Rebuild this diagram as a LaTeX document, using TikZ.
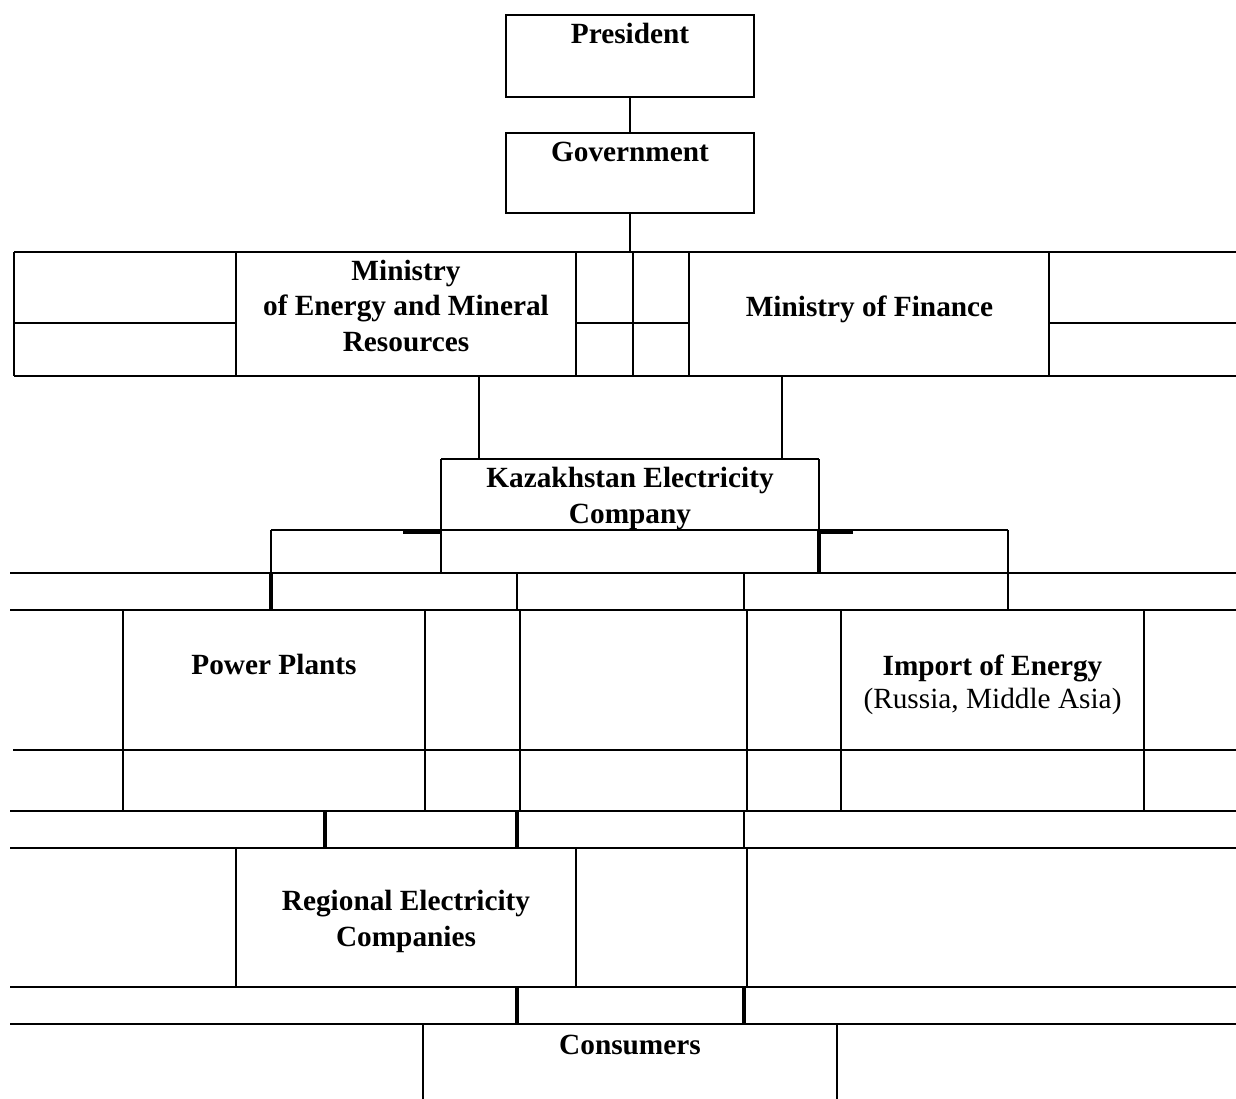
\documentclass[tikz,border=0pt]{standalone}
\usepackage{fontspec}
\setmainfont{Liberation Serif}
\begin{document}
\begin{tikzpicture}[x=1pt,y=-1pt,
  rule/.style={line width=1.8pt},
  heavy/.style={line width=4.2pt},
  box/.style={rule, draw, rectangle, inner sep=0pt, outer sep=0pt, minimum width=248pt},
  lbl/.style={font=\fontsize{29.3}{35.5}\selectfont\bfseries, inner sep=0pt, anchor=base, align=center},
  sublbl/.style={font=\fontsize{29.3}{35.5}\selectfont, inner sep=0pt, anchor=base}]
\useasboundingbox (0,0) rectangle (1236,1099);

% President and Government
\node[box, minimum height=82pt] (pres) at (630,56) {};
\node[box, minimum height=80pt] (gov) at (630,173) {};
\node[lbl] (tpres) at (630,44) {President};
\node[lbl] (tgov) at (630,162) {Government};
\draw[rule] (pres.south) -- (gov.north);
\coordinate (mintop) at (630,252);
\draw[rule] (gov.south) -- (mintop);

% Ministry row
\draw[rule] (14,252) -- (1236,252);
\draw[rule] (14,376) -- (1236,376);
\draw[rule] (14,323) -- (236,323) (576,323) -- (689,323) (1049,323) -- (1236,323);
\foreach \xx in {14,236,576,633,689,1049} \draw[rule] (\xx,252) -- (\xx,376);
\node[lbl] (tmin) at (406,351) {Ministry\\of Energy and Mineral\\Resources};
\node[lbl] (tfin) at (869.5,316) {Ministry of Finance};

% connectors to KEC
\coordinate (kecA) at (479,459);
\coordinate (kecB) at (782,459);
\draw[rule] (479,376) -- (kecA);
\draw[rule] (782,376) -- (kecB);

% KEC block
\draw[rule] (441,459) -- (819,459);
\draw[rule] (441,459) -- (441,573);
\draw[rule] (819,459) -- (819,530);
\draw[heavy] (819,530) -- (819,573);
\draw[rule] (271,530) -- (1008,530);
\draw[rule] (271,530) -- (271,573);
\draw[heavy] (271,573) -- (271,610);
\draw[rule] (1008,530) -- (1008,610);
\draw[heavy] (403,532.3) -- (441,532.3);
\draw[heavy] (819,532.3) -- (853,532.3);
\node[lbl] (tkec) at (630,523) {Kazakhstan Electricity\\Company};

% row 573-610
\draw[rule] (10,573) -- (1236,573);
\draw[rule] (10,610) -- (1236,610);
\draw[rule] (517,573) -- (517,610);
\draw[rule] (744,573) -- (744,610);

% power plants row
\draw[rule] (13,750) -- (1236,750);
\draw[rule] (10,811) -- (1236,811);
\foreach \xx in {123,425,520,747,841,1144} \draw[rule] (\xx,610) -- (\xx,811);
\node[lbl] (tpp) at (274,674) {Power Plants};
\node[lbl] (timp) at (992.5,675) {Import of Energy};
\node[sublbl] (timp2) at (992.5,708) {(Russia, Middle Asia)};

% row 811-848
\draw[rule] (10,848) -- (1236,848);
\draw[heavy] (325,811) -- (325,848);
\draw[heavy] (517,811) -- (517,848);
\draw[rule] (744,811) -- (744,848);

% regional row
\foreach \xx in {236,576,747} \draw[rule] (\xx,848) -- (\xx,987);
\node[lbl] (treg) at (406,946) {Regional Electricity\\Companies};

% row 987-1024
\draw[rule] (10,987) -- (1236,987);
\draw[rule] (10,1024) -- (1236,1024);
\draw[heavy] (517,987) -- (517,1024);
\draw[heavy] (744,987) -- (744,1024);

% consumers
\draw[rule] (423,1024) -- (423,1099);
\draw[rule] (837,1024) -- (837,1099);
\node[lbl] (tcons) at (630,1054) {Consumers};
\end{tikzpicture}
\end{document}
